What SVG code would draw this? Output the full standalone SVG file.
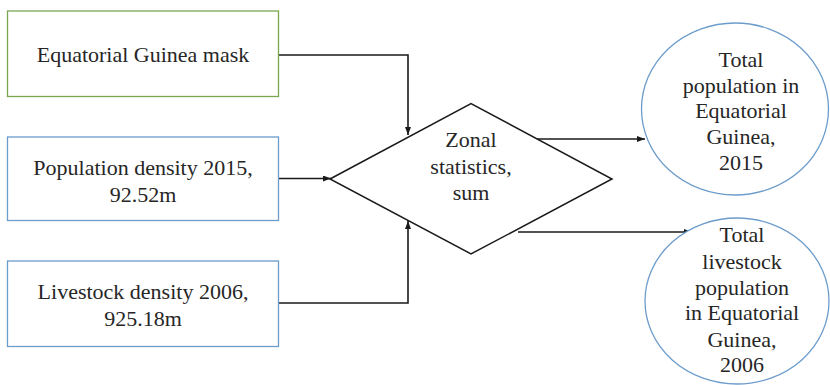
<svg xmlns="http://www.w3.org/2000/svg" width="830" height="385" viewBox="0 0 830 385">
<style>
.t{font-family:'Liberation Serif','Times New Roman',serif;font-size:22px;fill:#262626;text-anchor:middle}
.box{fill:#fff;stroke-width:1.3}
.g{stroke:#7aa850}
.b{stroke:#6c9ccb}
.conn{fill:none;stroke:#1a1a1a;stroke-width:1.6}
</style>
<defs>
<marker id="ah" viewBox="0 0 8 6" refX="8" refY="3" markerWidth="8" markerHeight="6" markerUnits="userSpaceOnUse" orient="auto">
<path d="M0,0 L8,3 L0,6 z" fill="#1a1a1a"/>
</marker>
</defs>
<rect width="830" height="385" fill="#fff"/>
<g id="connectors">
<path class="conn" d="M279,55 H408 V135" marker-end="url(#ah)"/>
<path class="conn" d="M279,178.5 H331" marker-end="url(#ah)"/>
<path class="conn" d="M279,303 H408 V221" marker-end="url(#ah)"/>
<path class="conn" d="M537,139 H645" marker-end="url(#ah)"/>
<path class="conn" d="M518,232 H692" marker-end="url(#ah)"/>
</g>
<g id="mask">
<rect class="box g" x="7.5" y="11" width="271" height="85.5"/>
<text class="t" font-family="Liberation Serif" x="143" y="62.4">Equatorial Guinea mask</text>
</g>
<g id="popdensity">
<rect class="box b" x="7.5" y="137" width="271" height="83.5"/>
<text class="t" font-family="Liberation Serif" x="143" y="175.4">Population density 2015,</text>
<text class="t" font-family="Liberation Serif" x="143" y="202.4">92.52m</text>
</g>
<g id="livedensity">
<rect class="box b" x="7.5" y="261" width="271" height="85.5"/>
<text class="t" font-family="Liberation Serif" x="143" y="299.4">Livestock density 2006,</text>
<text class="t" font-family="Liberation Serif" x="143" y="326.4">925.18m</text>
</g>
<g id="zonal">
<polygon points="330,179 471,103.5 612,179 471,254" fill="#fff" stroke="#1a1a1a" stroke-width="1.5"/>
<text class="t" font-family="Liberation Serif" x="471" y="147.4">Zonal</text>
<text class="t" font-family="Liberation Serif" x="471" y="174.4">statistics,</text>
<text class="t" font-family="Liberation Serif" x="471" y="200.4">sum</text>
</g>
<g id="totalpop">
<ellipse class="box b" cx="735" cy="109" rx="93.5" ry="86"/>
<text class="t" font-family="Liberation Serif" x="741" y="67.4">Total</text>
<text class="t" font-family="Liberation Serif" x="741" y="93.4">population in</text>
<text class="t" font-family="Liberation Serif" x="741" y="118.4">Equatorial</text>
<text class="t" font-family="Liberation Serif" x="741" y="144.4">Guinea,</text>
<text class="t" font-family="Liberation Serif" x="741" y="170.4">2015</text>
</g>
<g id="totallive">
<ellipse class="box b" cx="737" cy="301" rx="92" ry="83"/>
<text class="t" font-family="Liberation Serif" x="742" y="242.4">Total</text>
<text class="t" font-family="Liberation Serif" x="742" y="269.4">livestock</text>
<text class="t" font-family="Liberation Serif" x="742" y="295.4">population</text>
<text class="t" font-family="Liberation Serif" x="742" y="320.4">in Equatorial</text>
<text class="t" font-family="Liberation Serif" x="742" y="347.4">Guinea,</text>
<text class="t" font-family="Liberation Serif" x="742" y="372.4">2006</text>
</g>
</svg>
